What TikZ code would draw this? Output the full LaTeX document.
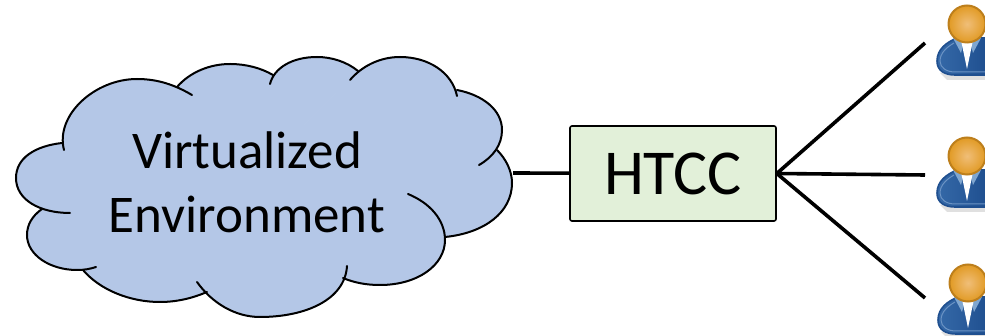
\documentclass[tikz,border=0pt]{standalone}
\usepackage{fontspec}
\setmainfont{Carlito}
\usepackage{xcolor}
\usetikzlibrary{positioning}
\definecolor{cloudblue}{HTML}{B4C7E7}
\definecolor{boxgreen}{HTML}{E2F0D9}
\definecolor{headlight}{HTML}{F0BE78}
\definecolor{headorange}{HTML}{E19A24}
\definecolor{headedge}{HTML}{BD7F1C}
\definecolor{suitblue}{HTML}{3569A8}
\definecolor{suitedge}{HTML}{1F4F8F}
\definecolor{suitline}{HTML}{6B93C4}
\definecolor{collarblue}{HTML}{7FA6D0}
\tikzset{
	lobe/.style={line width=2pt, line cap=round},
	link/.style={line width=3.6pt},
	bigtext/.style={font=\fontsize{53}{64}\selectfont, align=center, text=black},
	boxnode/.style={draw=black, line width=1.6pt, fill=boxgreen, rounded corners=2pt, minimum width=206pt, minimum height=95pt, inner sep=0pt, font=\fontsize{64}{70}\selectfont},
	usericon/.pic={
		\fill[black!12] (-27,49) -- (18,49) -- (18,56) -- (-20,56) -- cycle;
		\shade[left color=suitblue, right color=suitedge, draw=suitedge, line width=1.6pt] (-10,14) .. controls (-20,18) and (-30,25) .. (-30,37) .. controls (-30,47) and (-22,51) .. (-12,51) -- (20,51) -- (20,14) -- cycle;
		\draw[suitline, line width=1pt] (-13,19) .. controls (-20,23) and (-27,29) .. (-27,37) .. controls (-27,44) and (-20,48) .. (-12,48) -- (20,48);
		\fill[collarblue] (-14,14) -- (-3,18) -- (-6,29) -- cycle;
		\fill[collarblue] (14,14) -- (3,18) -- (6,29) -- cycle;
		\fill[white] (-6,16) -- (6,16) -- (0,45) -- cycle;
		\shade[inner color=headlight, outer color=headorange, draw=headedge, line width=2pt] (0,0) circle (18.5);
	},
}
% the lobes of the cloud, each handed to #1
\newcommand{\cloudlobes}[1]{
	#1{(177,87) .. controls (190,72) and (210,64) .. (230,64) .. controls (246,64) and (261,68) .. (273,75)}
	#1{(358,71) .. controls (347,62) and (332,57) .. (317,57) .. controls (292,57) and (274,68) .. (270,84)}
	#1{(457,96) .. controls (452,72) and (428,57) .. (400,57) .. controls (380,57) and (362,66) .. (350,80)}
	#1{(479,165) .. controls (493,157) and (502,145) .. (502,130) .. controls (502,110) and (483,95) .. (457,90)}
	#1{(445,237) .. controls (485,233) and (512,212) .. (512,183) .. controls (512,171) and (506,159) .. (497,150)}
	#1{(343,278) .. controls (355,283) and (367,285) .. (380,285) .. controls (418,285) and (445,265) .. (445,240) .. controls (445,220) and (430,203) .. (408,194)}
	#1{(197,282) .. controls (212,303) and (235,317) .. (260,317) .. controls (305,317) and (345,300) .. (347,266)}
	#1{(83,270) .. controls (100,290) and (130,302) .. (160,302) .. controls (177,302) and (193,298) .. (207,292)}
	#1{(42,209) .. controls (32,216) and (27,225) .. (27,235) .. controls (27,255) and (50,270) .. (77,270) .. controls (84,270) and (90,269) .. (96,267)}
	#1{(70,213) .. controls (40,213) and (16,200) .. (16,178) .. controls (16,158) and (35,146) .. (62,143)}
	#1{(64,150) .. controls (55,115) and (95,79) .. (137,79) .. controls (158,79) and (175,85) .. (192,95)}
}
\newcommand{\lobefill}[1]{\filldraw[cloudblue, line width=1pt] #1 -- (250,180) -- cycle;}
\newcommand{\lobedraw}[1]{\draw[lobe] #1;}
\begin{document}
\begin{tikzpicture}[x=1pt,y=-1pt]
	\useasboundingbox (0,0) rectangle (985,336);
	% cloud
	\cloudlobes{\lobefill}
	\cloudlobes{\lobedraw}
	\node[bigtext] (envtext) at (247,182) {Virtualized\\Environment};
	\coordinate (cloudedge) at (513,173);
	\node[boxnode] (htcc) at (673,173.5) {HTCC};
	\coordinate (lineone) at (925,43);
	\coordinate (linetwo) at (925,175);
	\coordinate (linethree) at (925,298);
	\draw[link] (cloudedge) -- (htcc);
	\draw[link] (htcc.east) -- (lineone);
	\draw[link] (htcc.east) -- (linetwo);
	\draw[link] (htcc.east) -- (linethree);
	\begin{scope}
		\clip (900,0) rectangle (985,336);
		\pic at (967,24) {usericon};
		\pic at (967,156) {usericon};
		\pic at (968,283) {usericon};
	\end{scope}
\end{tikzpicture}
\end{document}
